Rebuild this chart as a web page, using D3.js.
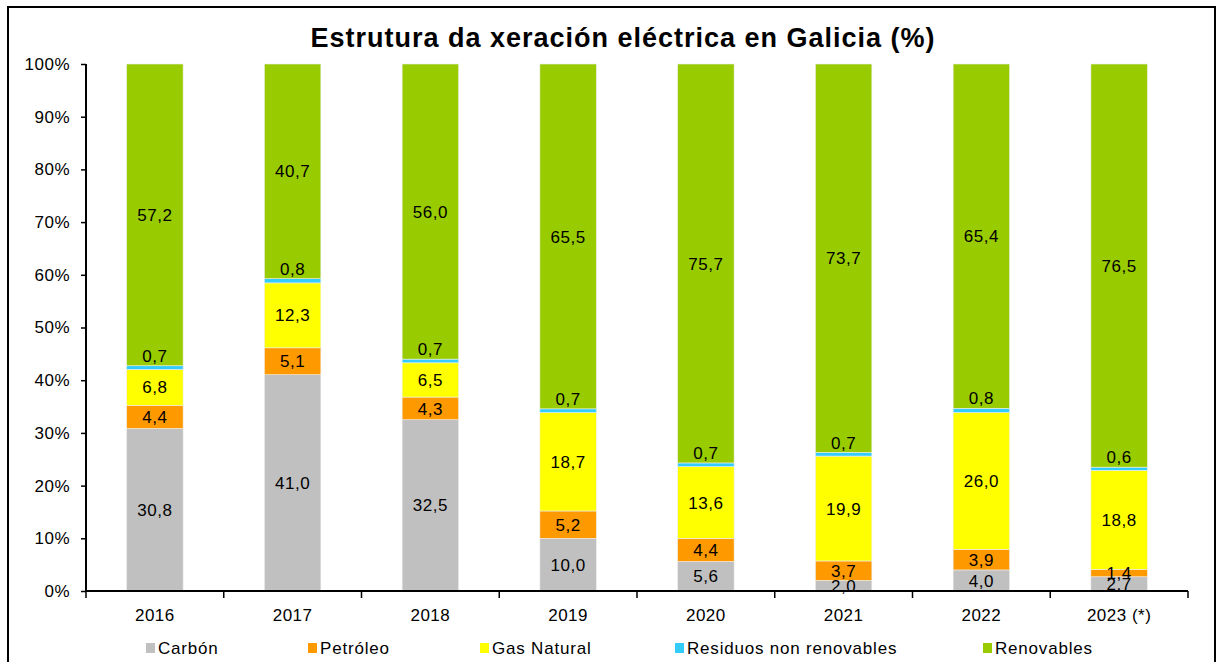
<!DOCTYPE html>
<html>
<head>
<meta charset="utf-8">
<script src="https://cdn.jsdelivr.net/npm/d3@7"></script>
<style>
  body { margin: 0; background: #fff; }
  text { font-family: "Liberation Sans", Arial, sans-serif; fill: #000; }
</style>
</head>
<body>
<div id="chart"></div>
<script>
"use strict";

const years = ["2016", "2017", "2018", "2019", "2020", "2021", "2022", "2023 (*)"];
const seriesNames = ["Carbón", "Petróleo", "Gas Natural", "Residuos non renovables", "Renovables"];
const carbon     = [30.8, 41.0, 32.5, 10.0, 5.6, 2.0, 4.0, 2.7];
const petroleo   = [4.4, 5.1, 4.3, 5.2, 4.4, 3.7, 3.9, 1.4];
const gasNatural = [6.8, 12.3, 6.5, 18.7, 13.6, 19.9, 26.0, 18.8];
const residuos   = [0.7, 0.8, 0.7, 0.7, 0.7, 0.7, 0.8, 0.6];
const renovables = [57.2, 40.7, 56.0, 65.5, 75.7, 73.7, 65.4, 76.5];
const yTicks = [0, 10, 20, 30, 40, 50, 60, 70, 80, 90, 100];
const colors = ["#c0c0c0", "#ff9900", "#ffff00", "#33ccff", "#99cc00"];

const width = 1218, height = 662;
const margin = { top: 64, right: 30, bottom: 71, left: 86 };
const plotW = 1188 - margin.left;
const plotH = 591 - margin.top;
const fontSize = "17px", spacing = "0.5px";

const allSeries = [carbon, petroleo, gasNatural, residuos, renovables];
const rows = years.map((y, i) => {
    const row = { year: y };
    seriesNames.forEach((s, k) => { row[s] = allSeries[k][i]; });
    return row;
});

const stack = d3.stack().keys(seriesNames).offset(d3.stackOffsetExpand);
const layers = stack(rows);

const svg = d3.select("#chart").append("svg")
              .attr("width", width)
              .attr("height", height);

// outer frame
svg.append("rect")
   .attr("x", 8).attr("y", 7)
   .attr("width", 1207).attr("height", 670)
   .attr("fill", "none")
   .attr("stroke", "#000")
   .attr("stroke-width", 2);

svg.append("text")
   .attr("x", 623).attr("y", 47)
   .attr("text-anchor", "middle")
   .style("font-size", "27px")
   .style("letter-spacing", "1px")
   .style("font-weight", "bold")
   .text("Estrutura da xeración eléctrica en Galicia (%)");

const xScale = d3.scaleBand().domain(years).range([0, plotW]).paddingInner(0.59).paddingOuter(0.295);
const xBand = d3.scaleBand().domain(years).range([0, plotW]);
const yScale = d3.scaleLinear().domain([0, 1]).range([plotH, 0]);

const g = svg.append("g").attr("transform", `translate(${margin.left},${margin.top})`);

const layerG = g.selectAll(".layer")
                .data(layers)
                .join("g")
                .attr("class", "layer")
                .attr("fill", (d, i) => colors[i]);

layerG.selectAll("rect")
      .data(d => d)
      .join("rect")
      .attr("x", d => xScale(d.data.year))
      .attr("width", xScale.bandwidth())
      .attr("y", d => yScale(d[1]))
      .attr("height", d => yScale(d[0]) - yScale(d[1]))
      .attr("stroke", "#eeeeee")
      .attr("stroke-width", 0.6);

// data labels
layers.forEach((layer, k) => {
    g.append("g").selectAll("text")
     .data(layer)
     .join("text")
     .attr("x", d => xScale(d.data.year) + xScale.bandwidth() / 2)
     .attr("y", d => {
         if (k === 3) return yScale(d[1]) - 10;
         return (yScale(d[0]) + yScale(d[1])) / 2;
     })
     .attr("dy", "0.36em")
     .attr("text-anchor", "middle")
     .style("font-size", fontSize)
     .style("letter-spacing", spacing)
     .text(d => d3.format(".1f")(d.data[layer.key]).replace(".", ","));
});

// axes
const yAxis = g.append("g")
               .call(d3.axisLeft(yScale)
                       .tickValues(yTicks.map(t => t / 100))
                       .tickSize(5)
                       .tickFormat(d => Math.round(d * 100) + "%"));
yAxis.select(".domain").attr("stroke-width", 2).attr("d", `M0,${plotH}V0`);
yAxis.selectAll(".tick line").attr("stroke-width", 1.5);
yAxis.selectAll(".tick text")
     .attr("x", -16)
     .style("font-size", fontSize)
     .style("letter-spacing", spacing)
     .style("font-family", "Liberation Sans, Arial, sans-serif");

const xAxis = g.append("g").attr("transform", `translate(0,${plotH})`);
xAxis.append("line")
     .attr("x1", 0).attr("x2", plotW)
     .attr("y1", 0).attr("y2", 0)
     .attr("stroke", "#000").attr("stroke-width", 2);
xAxis.selectAll(".xtick")
     .data(d3.range(years.length + 1))
     .join("line")
     .attr("class", "xtick")
     .attr("x1", i => i * xBand.bandwidth())
     .attr("x2", i => i * xBand.bandwidth())
     .attr("y1", 0).attr("y2", 7)
     .attr("stroke", "#000").attr("stroke-width", 1.5);
xAxis.selectAll(".xlabel")
     .data(years)
     .join("text")
     .attr("class", "xlabel")
     .attr("x", d => xBand(d) + xBand.bandwidth() / 2)
     .attr("y", 30)
     .attr("text-anchor", "middle")
     .style("font-size", fontSize)
     .style("letter-spacing", spacing)
     .text(d => d);

// legend
const legendX = [146, 308, 480, 675, 983];
const legend = svg.append("g").attr("transform", "translate(0,648)");
const item = legend.selectAll("g")
                   .data(seriesNames)
                   .join("g")
                   .attr("transform", (d, i) => `translate(${legendX[i]},0)`);
item.append("rect")
    .attr("x", 0).attr("y", -5)
    .attr("width", 9).attr("height", 10)
    .attr("fill", (d, i) => colors[i]);
item.append("text")
    .attr("x", 12).attr("y", 0)
    .attr("dy", "0.36em")
    .style("font-size", fontSize)
    .style("letter-spacing", "0.8px")
    .text(d => d);
</script>
</body>
</html>
